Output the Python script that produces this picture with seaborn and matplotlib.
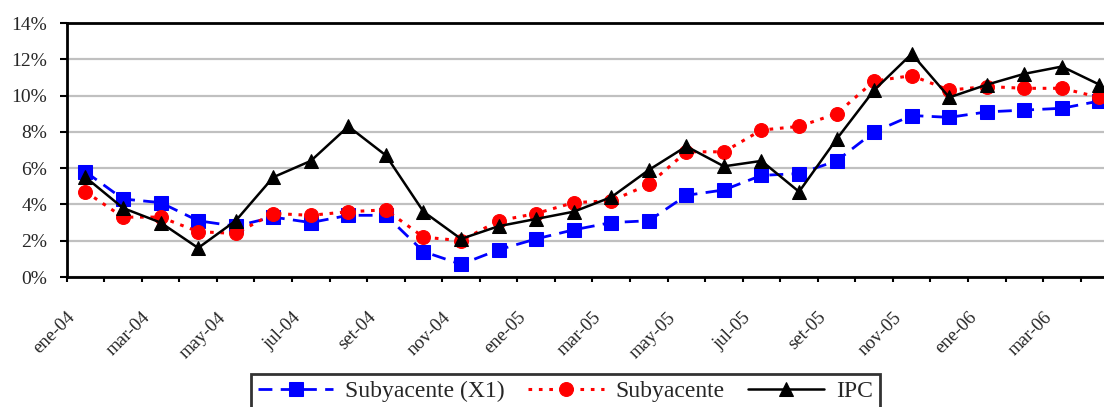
import numpy as np
import pandas as pd
import seaborn as sns
import matplotlib.pyplot as plt
import matplotlib.transforms as mtransforms
from matplotlib.ticker import PercentFormatter, FixedLocator

# ************************************************************************
# Data (% annual)
# ************************************************************************

months = ['ene-04', 'feb-04', 'mar-04', 'abr-04', 'may-04', 'jun-04', 'jul-04', 'ago-04',
          'set-04', 'oct-04', 'nov-04', 'dic-04', 'ene-05', 'feb-05', 'mar-05', 'abr-05',
          'may-05', 'jun-05', 'jul-05', 'ago-05', 'set-05', 'oct-05', 'nov-05', 'dic-05',
          'ene-06', 'feb-06', 'mar-06', 'abr-06']

subyacente_x1 = [5.8, 4.3, 4.1, 3.1, 2.8, 3.3, 3.0, 3.4, 3.4, 1.4, 0.7, 1.5, 2.1, 2.6,
                 3.0, 3.1, 4.5, 4.8, 5.6, 5.7, 6.4, 8.0, 8.9, 8.8, 9.1, 9.2, 9.3, 9.7]
subyacente = [4.7, 3.3, 3.3, 2.5, 2.4, 3.5, 3.4, 3.6, 3.7, 2.2, 2.0, 3.1, 3.5, 4.1,
              4.2, 5.1, 6.9, 6.9, 8.1, 8.3, 9.0, 10.8, 11.1, 10.3, 10.5, 10.4, 10.4, 9.9]
ipc = [5.5, 3.8, 3.0, 1.6, 3.1, 5.5, 6.4, 8.3, 6.7, 3.6, 2.1, 2.8, 3.2, 3.6,
       4.4, 5.9, 7.2, 6.1, 6.4, 4.7, 7.6, 10.3, 12.3, 9.9, 10.6, 11.2, 11.6, 10.6]

x = np.arange(len(months))

# ************************************************************************
# Plot
# ************************************************************************

sns.set_style('white')
plt.rcParams['font.family'] = ['Liberation Serif', 'DejaVu Serif']

fig = plt.figure(figsize=(11.04, 4.07), dpi=100)
ax = fig.add_axes([66.7 / 1104, 130 / 407, 1 - 66.7 / 1104, 254 / 407])

sns.lineplot(x=x, y=subyacente_x1, ax=ax, color='#0000ff', linestyle=(0, (5, 3)), linewidth=2,
             marker='s', markersize=9.5, markeredgecolor='#0000ff', label='Subyacente (X1)', zorder=3)
sns.lineplot(x=x, y=subyacente, ax=ax, color='#ff0000', linestyle=(0, (1.2, 2.2)), linewidth=2.2,
             marker='o', markersize=10, markeredgecolor='#ff0000', label='Subyacente', zorder=4)
sns.lineplot(x=x, y=ipc, ax=ax, color='black', linestyle='-', linewidth=1.8,
             marker='^', markersize=10.5, markeredgecolor='black', label='IPC', zorder=5)

ax.set_ylim(0, 14)
ax.set_xlim(-0.5, 27.12)
ax.set_yticks(np.arange(0, 15, 2))
ax.yaxis.set_major_formatter(PercentFormatter(xmax=100, decimals=0))
ax.yaxis.grid(True, color='#c0c0c0', linewidth=1.6)
ax.set_axisbelow(True)

# ticks between categories, labels every second month
ax.xaxis.set_major_locator(FixedLocator(np.arange(-0.5, 28, 1)))
ax.set_xticklabels([])
ax.set_xticks(x[::2], labels=months[::2], minor=True)
ax.tick_params(axis='x', which='major', direction='out', length=3.6, width=1.5, bottom=True, color='black')
ax.tick_params(axis='x', which='minor', length=0, pad=23)
ax.tick_params(axis='y', direction='out', length=5, width=1.5, left=True, color='black',
               labelsize=14, pad=9)
shift = mtransforms.ScaledTranslation(-0.19, 0, fig.dpi_scale_trans)
for lab in ax.get_xticklabels(minor=True):
    lab.set_rotation(45)
    lab.set_ha('right')
    lab.set_va('top')
    lab.set_rotation_mode('anchor')
    lab.set_fontsize(13.5)
    lab.set_transform(lab.get_transform() + shift)

for side in ['left', 'bottom', 'top']:
    ax.spines[side].set_color('black')
    ax.spines[side].set_linewidth(2)
ax.spines['right'].set_visible(False)

ax.set_xlabel('')
ax.set_ylabel('')

leg = ax.legend(loc='upper center', bbox_to_anchor=(0.512, 0.082), bbox_transform=fig.transFigure,
                ncol=3, fontsize=17, frameon=True, fancybox=False, handlelength=3.2,
                columnspacing=1.0, handletextpad=0.5, borderpad=0.3, borderaxespad=0)
leg.get_frame().set_edgecolor('black')
leg.get_frame().set_linewidth(2)

plt.savefig('out.png', dpi=100)
